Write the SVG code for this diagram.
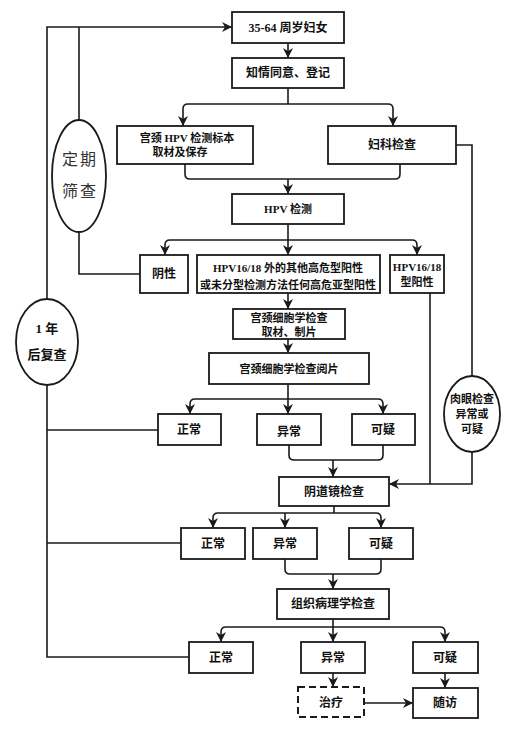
<svg xmlns="http://www.w3.org/2000/svg" width="532" height="730" viewBox="0 0 532 730">
<style>
.bx{fill:#fff;stroke:#1a1a1a;stroke-width:1.8}
.dash{fill:#fff;stroke:#1a1a1a;stroke-width:2;stroke-dasharray:7,4}
.c{fill:none;stroke:#1a1a1a;stroke-width:1.6}
.t{font-family:"Liberation Serif","Noto Sans CJK SC",serif;font-weight:bold;font-size:12px;text-anchor:middle;dominant-baseline:central;fill:#111}
.s{font-size:11px}
.e{font-family:"Noto Sans CJK SC",sans-serif;font-weight:normal;font-size:16px;letter-spacing:2px;text-anchor:middle;dominant-baseline:central;fill:#333}
</style>
<defs>
<marker id="a" markerUnits="userSpaceOnUse" markerWidth="10" markerHeight="10" viewBox="0 0 10 10" refX="10" refY="5" orient="auto">
<path d="M0,0 L10,5 L0,10 L3,5 z" fill="#1a1a1a"/>
</marker>
</defs>
<rect width="532" height="730" fill="#fff"/>
<g id="connectors">
<path class="c" d="M288,43 V58" marker-end="url(#a)"/>
<path class="c" d="M288,88 V104"/>
<path class="c" d="M288,104 H188 Q183,104 183,109 V126" marker-end="url(#a)"/>
<path class="c" d="M288,104 H388 Q393,104 393,109 V126" marker-end="url(#a)"/>
<path class="c" d="M185,164 V174 Q185,179 190,179 H395 Q400,179 400,174 V164"/>
<path class="c" d="M288,179 V194" marker-end="url(#a)"/>
<path class="c" d="M288,224 V255" marker-end="url(#a)"/>
<path class="c" d="M288,240 H170 Q165,240 165,245 V255" marker-end="url(#a)"/>
<path class="c" d="M288,240 H412 Q417,240 417,245 V255" marker-end="url(#a)"/>
<path class="c" d="M140,274 H79 V232"/>
<path class="c" d="M79,120 V27"/>
<path class="c" d="M47,300 V27 H232" marker-end="url(#a)"/>
<path class="c" d="M47,385 V657 H189"/>
<path class="c" d="M158,430 H47"/>
<path class="c" d="M181,543 H47"/>
<path class="c" d="M456,145 H472 V376"/>
<path class="c" d="M472,452 V484 H389" marker-end="url(#a)"/>
<path class="c" d="M430,293 V484"/>
<path class="c" d="M288,293 V309" marker-end="url(#a)"/>
<path class="c" d="M288,339 V353" marker-end="url(#a)"/>
<path class="c" d="M288,384 V414" marker-end="url(#a)"/>
<path class="c" d="M288,399 H195 Q190,399 190,404 V414" marker-end="url(#a)"/>
<path class="c" d="M288,399 H378 Q383,399 383,404 V414" marker-end="url(#a)"/>
<path class="c" d="M289,445 V455 Q289,460 294,460 H378 Q383,460 383,455 V445"/>
<path class="c" d="M333,460 V477" marker-end="url(#a)"/>
<path class="c" d="M334,506 V513"/>
<path class="c" d="M334,513 H218 Q213,513 213,518 V528" marker-end="url(#a)"/>
<path class="c" d="M334,513 H376 Q381,513 381,518 V528" marker-end="url(#a)"/>
<path class="c" d="M285,513 V528" marker-end="url(#a)"/>
<path class="c" d="M285,559 V569 Q285,574 290,574 H376 Q381,574 381,569 V559"/>
<path class="c" d="M333,574 V589" marker-end="url(#a)"/>
<path class="c" d="M333,619 V642" marker-end="url(#a)"/>
<path class="c" d="M333,627 H226 Q221,627 221,632 V642" marker-end="url(#a)"/>
<path class="c" d="M333,627 H440 Q445,627 445,632 V642" marker-end="url(#a)"/>
<path class="c" d="M333,673 V687" marker-end="url(#a)"/>
<path class="c" d="M445,673 V688" marker-end="url(#a)"/>
<path class="c" d="M364,703 H413" marker-end="url(#a)"/>
</g>
<g id="n1"><rect class="bx" x="232" y="12" width="112" height="31"/><text class="t" x="288" y="28">35-64 周岁妇女</text></g>
<g id="n2"><rect class="bx" x="232" y="58" width="112" height="30"/><text class="t" x="288" y="73">知情同意、登记</text></g>
<g id="n3"><rect class="bx" x="117" y="126" width="136" height="38"/><text class="t s" x="187" y="138">宫颈 HPV 检测标本</text><text class="t s" x="180" y="152">取材及保存</text></g>
<g id="n4"><rect class="bx" x="328" y="126" width="128" height="38"/><text class="t" x="392" y="145">妇科检查</text></g>
<g id="n5"><rect class="bx" x="232" y="194" width="112" height="30"/><text class="t s" x="288" y="209">HPV 检测</text></g>
<g id="n6"><rect class="bx" x="140" y="255" width="48" height="38"/><text class="t" x="164" y="274">阴性</text></g>
<g id="n7"><rect class="bx" x="197" y="255" width="183" height="38"/><text class="t s" x="288" y="268">HPV16/18 外的其他高危型阳性</text><text class="t s" x="288" y="285">或未分型检测方法任何高危亚型阳性</text></g>
<g id="n8"><rect class="bx" x="390" y="255" width="54" height="38"/><text class="t s" x="417" y="267">HPV16/18</text><text class="t s" x="417" y="282">型阳性</text></g>
<g id="n9"><ellipse class="bx" cx="79" cy="176" rx="27" ry="56"/><text class="e" x="80" y="158">定期</text><text class="e" x="80" y="190">筛查</text></g>
<g id="n10"><ellipse class="bx" cx="47" cy="342" rx="31" ry="43"/><text class="t" x="47" y="328" style="font-size:13px">1 年</text><text class="t" x="47" y="354" style="font-size:13px">后复查</text></g>
<g id="n11"><rect class="bx" x="233" y="309" width="112" height="30"/><text class="t s" x="289" y="318">宫颈细胞学检查</text><text class="t s" x="289" y="332">取材、制片</text></g>
<g id="n12"><rect class="bx" x="209" y="353" width="160" height="31"/><text class="t s" x="289" y="369">宫颈细胞学检查阅片</text></g>
<g id="n13"><rect class="bx" x="158" y="414" width="63" height="31"/><text class="t" x="189" y="430">正常</text></g>
<g id="n14"><rect class="bx" x="257" y="414" width="64" height="31"/><text class="t" x="289" y="432">异常</text></g>
<g id="n15"><rect class="bx" x="352" y="414" width="63" height="31"/><text class="t" x="383" y="430">可疑</text></g>
<g id="n16"><ellipse class="bx" cx="472" cy="414" rx="28" ry="38"/><text class="t s" x="472" y="399">肉眼检查</text><text class="t s" x="472" y="414">异常或</text><text class="t s" x="472" y="429">可疑</text></g>
<g id="n17"><rect class="bx" x="279" y="477" width="110" height="29"/><text class="t" x="334" y="492">阴道镜检查</text></g>
<g id="n18"><rect class="bx" x="181" y="528" width="64" height="31"/><text class="t" x="213" y="544">正常</text></g>
<g id="n19"><rect class="bx" x="253" y="528" width="64" height="31"/><text class="t" x="285" y="544">异常</text></g>
<g id="n20"><rect class="bx" x="349" y="528" width="64" height="31"/><text class="t" x="381" y="544">可疑</text></g>
<g id="n21"><rect class="bx" x="277" y="589" width="112" height="30"/><text class="t" x="333" y="604">组织病理学检查</text></g>
<g id="n22"><rect class="bx" x="189" y="642" width="64" height="31"/><text class="t" x="221" y="658">正常</text></g>
<g id="n23"><rect class="bx" x="301" y="642" width="64" height="31"/><text class="t" x="333" y="658">异常</text></g>
<g id="n24"><rect class="bx" x="413" y="642" width="65" height="31"/><text class="t" x="445" y="658">可疑</text></g>
<g id="n25"><rect class="dash" x="298" y="687" width="66" height="30"/><text class="t" x="331" y="703">治疗</text></g>
<g id="n26"><rect class="bx" x="413" y="688" width="65" height="30"/><text class="t" x="445" y="703">随访</text></g>
</svg>
